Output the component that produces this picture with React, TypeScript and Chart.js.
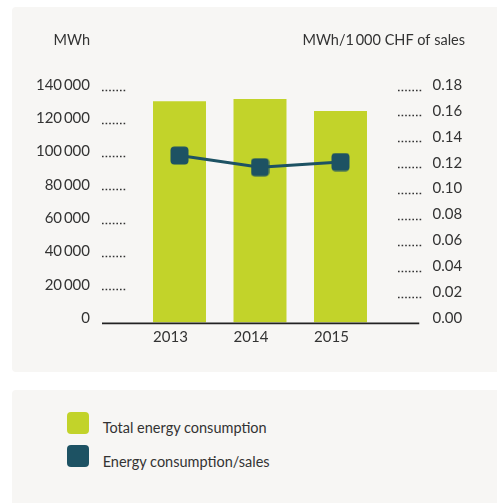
import React, { useEffect, useRef } from "react";
import { Chart, registerables } from "chart.js";

Chart.register(...registerables);

const categories = ["2013", "2014", "2015"];
const totalEnergy = [133000, 134300, 127100];
const energyPerSales = [0.129, 0.12, 0.124];
const seriesNames = ["Total energy consumption", "Energy consumption/sales"];
const leftTitle = "MWh";
const rightTitle = "MWh/1\u2009000 CHF of sales";
const leftMax = 140000;
const leftStep = 20000;
const rightMax = 0.18;
const rightStep = 0.02;

const GREEN = "#c2d32a";
const TEAL = "#1d5263";
const TEXT = "#333333";
const PANEL = "#f7f6f4";
const FONT = "Lato, 'Open Sans', sans-serif";

function fmtThousands(v: number): string {
  const s = Math.round(v).toString();
  return s.replace(/\B(?=(\d{3})+(?!\d))/g, "\u2009");
}

function makeMarker(): HTMLCanvasElement {
  const c = document.createElement("canvas");
  c.width = 19;
  c.height = 19;
  const ctx = c.getContext("2d")!;
  ctx.fillStyle = TEAL;
  ctx.beginPath();
  (ctx as any).roundRect(0.5, 0.5, 18, 18, 4);
  ctx.fill();
  return c;
}

const leadersPlugin = {
  id: "leaders",
  afterDatasetsDraw(chart: any) {
    const ctx = chart.ctx as CanvasRenderingContext2D;
    const a = chart.chartArea;
    const yL = chart.scales.y;
    const yR = chart.scales.y1;
    ctx.save();
    ctx.strokeStyle = "#333333";
    ctx.lineWidth = 1.3;
    ctx.setLineDash([1.6, 2]);
    yL.ticks.forEach((t: any) => {
      if (t.value === 0) return;
      const y = Math.round(yL.getPixelForValue(t.value)) + 0.5;
      ctx.beginPath();
      ctx.moveTo(a.left - 37.25, y);
      ctx.lineTo(a.left - 12.25, y);
      ctx.stroke();
    });
    yR.ticks.forEach((t: any) => {
      if (Math.abs(t.value) < 1e-9) return;
      const y = Math.round(yR.getPixelForValue(t.value)) + 0.5;
      ctx.beginPath();
      ctx.moveTo(a.right + 17.25, y);
      ctx.lineTo(a.right + 41.25, y);
      ctx.stroke();
    });
    ctx.setLineDash([]);
    ctx.lineWidth = 1.6;
    ctx.strokeStyle = "#222222";
    const y0 = yL.getPixelForValue(0) + 0.8;
    ctx.beginPath();
    ctx.moveTo(a.left - 37.25, y0);
    ctx.lineTo(a.right + 38.5, y0);
    ctx.stroke();

    ctx.fillStyle = TEXT;
    ctx.font = `14.5px ${FONT}`;
    ctx.textBaseline = "middle";
    ctx.textAlign = "right";
    ctx.fillText(leftTitle, 78, 33);
    ctx.fillText(rightTitle, 453, 33);
    ctx.restore();
  },
};

function fixVertical(width: number) {
  return (s: any) => {
    s.width = width;
    s.paddingTop = 0;
    s.paddingBottom = 0;
  };
}

export default function App() {
  const ref = useRef<HTMLCanvasElement | null>(null);

  useEffect(() => {
    if (!ref.current) return;
    const marker = makeMarker();
    const chart = new Chart(ref.current, {
      type: "bar",
      data: {
        labels: categories,
        datasets: [
          {
            type: "line",
            label: seriesNames[1],
            data: energyPerSales,
            yAxisID: "y1",
            borderColor: TEAL,
            backgroundColor: TEAL,
            borderWidth: 3,
            pointStyle: marker as any,
            pointRadius: 9,
            order: 0,
          } as any,
          {
            type: "bar",
            label: seriesNames[0],
            data: totalEnergy,
            yAxisID: "y",
            backgroundColor: GREEN,
            borderWidth: 0,
            categoryPercentage: 1,
            barPercentage: 0.658,
            order: 1,
          },
        ],
      },
      options: {
        animation: false,
        responsive: false,
        maintainAspectRatio: false,
        layout: { padding: { top: 82.5, left: 0, right: 0, bottom: 0 } },
        plugins: {
          legend: { display: false },
          tooltip: { enabled: false },
        },
        scales: {
          x: {
            grid: { display: false, drawTicks: false },
            border: { display: false },
            ticks: {
              color: TEXT,
              font: { family: FONT, size: 15 },
              padding: 6,
              labelOffset: -9,
            },
            afterFit: (s: any) => {
              s.height = 49.4;
            },
          },
          y: {
            position: "left",
            min: 0,
            max: leftMax,
            grid: { display: false, drawTicks: false },
            border: { display: false },
            ticks: {
              stepSize: leftStep,
              color: TEXT,
              font: { family: FONT, size: 15 },
              padding: 49.25,
              labelOffset: -4.5,
              callback: (v: any) => fmtThousands(Number(v)),
            },
            afterFit: fixVertical(127.25),
          },
          y1: {
            position: "right",
            min: 0,
            max: rightMax,
            grid: { display: false, drawTicks: false },
            border: { display: false },
            ticks: {
              stepSize: rightStep,
              color: TEXT,
              font: { family: FONT, size: 15 },
              padding: 51.75,
              labelOffset: -4.5,
              callback: (v: any) => Number(v).toFixed(2),
            },
            afterFit: fixVertical(116.25),
          },
        },
      },
      plugins: [leadersPlugin],
    });
    return () => chart.destroy();
  }, []);

  const swatchColors = [GREEN, TEAL];

  return (
    <div
      style={{
        position: "fixed",
        left: 0,
        top: 0,
        width: 497,
        height: 503,
        overflow: "hidden",
        background: "#ffffff",
        fontFamily: FONT,
      }}
    >
      <div
        style={{
          position: "absolute",
          left: 12,
          top: 7,
          width: 485,
          height: 365,
          background: PANEL,
          borderRadius: "4px 0 0 4px",
        }}
      >
        <canvas ref={ref} width={485} height={365} style={{ display: "block" }} />
      </div>
      <div
        style={{
          position: "absolute",
          left: 12,
          top: 390,
          width: 485,
          height: 113,
          background: PANEL,
          borderRadius: "4px 0 0 0",
        }}
      >
        {seriesNames.map((name, i) => (
          <React.Fragment key={name}>
            <div
              style={{
                position: "absolute",
                left: 54.7,
                top: 21.7 + i * 33.3,
                width: 22.3,
                height: 22.3,
                borderRadius: 4,
                background: swatchColors[i],
              }}
            />
            <div
              style={{
                position: "absolute",
                left: 90.7,
                top: 28.2 + i * 33.3,
                fontSize: 14.5,
                lineHeight: "20px",
                color: TEXT,
                whiteSpace: "nowrap",
              }}
            >
              {name}
            </div>
          </React.Fragment>
        ))}
      </div>
    </div>
  );
}
